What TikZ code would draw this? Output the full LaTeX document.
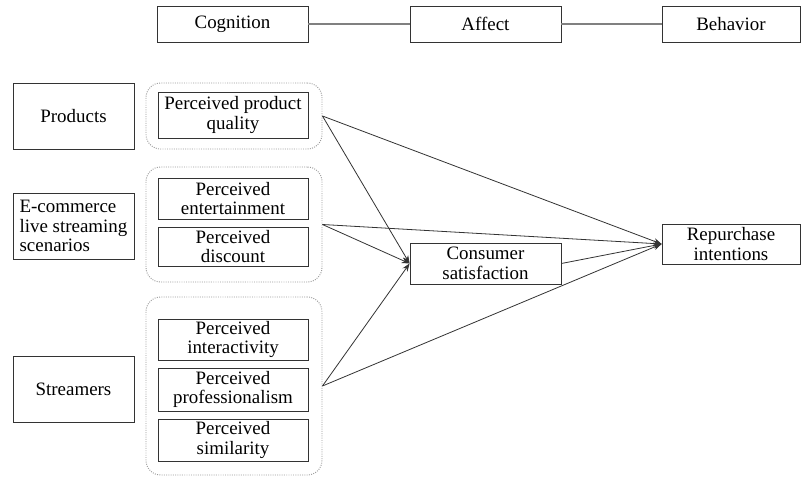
\documentclass[tikz,border=0pt]{standalone}
\usepackage{fontspec}
\setmainfont{Liberation Serif}
\newfontfamily\tnr{Liberation Serif}
\usetikzlibrary{arrows.meta}
\begin{document}
\begin{tikzpicture}[x=0.75pt,y=-0.75pt,
  font=\tnr\fontsize{14.2}{14.6}\selectfont,
  box/.style={draw=black!80, line width=0.6pt, inner sep=0pt, align=center, fill=white},
  grp/.style={draw=gray!80, densely dotted, line width=0.7pt, rounded corners=11pt, inner sep=0pt},
  arr/.style={draw=black!80, line width=0.6pt, -{Stealth[length=6pt,width=4.5pt]}},
  link/.style={draw=gray, line width=1.2pt}]
\fill[white] (0,0) rectangle (801,477);
\useasboundingbox (0,0) rectangle (801,477);

% top row
\node[box, minimum width=151*0.75pt, minimum height=36*0.75pt] (cog) at (232.5,24) {Cognition};
\node[box, minimum width=151*0.75pt, minimum height=36*0.75pt] (aff) at (485.5,24) {Affect};
\node[box, minimum width=138*0.75pt, minimum height=36*0.75pt] (beh) at (731,24) {Behavior};
\draw[link] (cog.east) -- (aff.west);
\draw[link] (aff.east) -- (beh.west);

% left category boxes
\node[box, minimum width=121*0.75pt, minimum height=66*0.75pt] (prod) at (73.5,116) {Products};
\node[box, minimum width=121*0.75pt, minimum height=66*0.75pt, align=left, inner xsep=1.5pt] (ecom) at (73.5,226) {E-commerce\\live streaming\\scenarios};
\node[box, minimum width=121*0.75pt, minimum height=66*0.75pt] (str) at (73.5,389) {Streamers};

% groups
\node[grp, minimum width=176*0.75pt, minimum height=66*0.75pt] (g1) at (234,116) {};
\node[grp, minimum width=176*0.75pt, minimum height=115*0.75pt] (g2) at (234,224.5) {};
\node[grp, minimum width=176*0.75pt, minimum height=178*0.75pt] (g3) at (234,386) {};

% perceived boxes
\node[box, minimum width=150*0.75pt, minimum height=46*0.75pt] (ppq) at (233,115) {Perceived product\\quality};
\node[box, minimum width=150*0.75pt, minimum height=41*0.75pt] (ent) at (233,198.5) {Perceived\\entertainment};
\node[box, minimum width=150*0.75pt, minimum height=39*0.75pt] (dis) at (233,246.5) {Perceived\\discount};
\node[box, minimum width=150*0.75pt, minimum height=41*0.75pt] (int) at (233,339.5) {Perceived\\interactivity};
\node[box, minimum width=150*0.75pt, minimum height=43*0.75pt] (pro) at (233,389.5) {Perceived\\professionalism};
\node[box, minimum width=150*0.75pt, minimum height=42*0.75pt] (sim) at (233,440) {Perceived\\similarity};

% mediators / outcome
\node[box, minimum width=151*0.75pt, minimum height=41*0.75pt] (cs) at (485.5,263.5) {Consumer\\satisfaction};
\node[box, minimum width=138*0.75pt, minimum height=40*0.75pt] (rep) at (731,244) {Repurchase\\intentions};

% arrows
\draw[arr] (g1.east) -- (cs.west);
\draw[arr] (g2.east) -- (cs.west);
\draw[arr] (g3.east) -- (cs.west);
\draw[arr] (g1.east) -- (rep.west);
\draw[arr] (g2.east) -- (rep.west);
\draw[arr] (g3.east) -- (rep.west);
\draw[arr] (cs.east) -- (rep.west);
\end{tikzpicture}
\end{document}
